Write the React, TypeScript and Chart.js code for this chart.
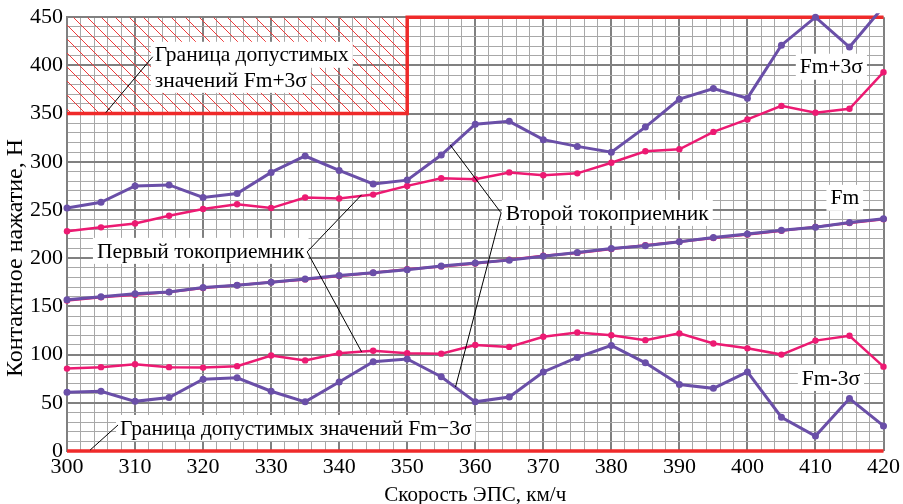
import React, { useEffect, useRef } from "react";
import { Chart, registerables } from "chart.js";

Chart.register(...registerables);

const speeds = [300, 305, 310, 315, 320, 325, 330, 335, 340, 345, 350, 355, 360, 365, 370, 375, 380, 385, 390, 395, 400, 405, 410, 415, 420];

// Второй токоприемник (фиолетовый)
const upperSecond = [252, 258, 275, 276, 263, 267, 289, 306, 291, 277, 281, 307, 339, 342, 323, 316, 310, 336, 365, 376, 366, 421, 450, 419, 461];
const meanSecond = [157, 160, 163, 165, 169.5, 172, 175, 178.5, 182, 185, 188, 192, 195, 198, 202, 206, 210, 213, 217, 221.5, 225, 229, 232, 237, 241];
const lowerSecond = [61, 62, 51.5, 55.5, 74.5, 76, 62, 51, 71.5, 92.5, 95.5, 77, 51, 56, 82, 97, 109.5, 91.5, 69, 65, 82, 35, 15.5, 54.5, 26];

// Первый токоприемник (розовый)
const upperFirst = [228, 232, 236, 244, 251, 256, 252, 263, 262, 266, 275, 283, 282, 289, 286, 288, 299, 311, 313, 331, 344, 358, 351, 355, 393];
const meanFirst = [156, 159.5, 162, 165, 169, 172, 175, 178, 181.5, 185, 188.5, 191.5, 194.5, 198.5, 202.5, 205.5, 209.5, 213.5, 217, 221, 224.5, 228.5, 232.5, 236.5, 240.5];
const lowerFirst = [85.5, 87, 90, 87, 86.5, 88, 99, 94, 101.5, 104, 101.5, 101, 110, 108, 118.5, 123, 120, 115, 122, 111.5, 106.5, 100, 114.5, 119.5, 87.5];

// Границы допустимых значений
const upperLimitX = [300, 350, 350, 420];
const upperLimitY = [350, 350, 450, 450];
const lowerLimitX = [300, 420];
const lowerLimitY = [0, 0];

const xMin = 300, xMax = 420, xStep = 2, xMajor = 10;
const yMin = 0, yMax = 450, yStep = 10, yMajor = 50;

const PURPLE = "#6a4fa8";
const PINK = "#ec1a72";
const RED = "#ef2a2a";
const FONT = "'Liberation Serif', 'Times New Roman', serif";

const labels = [
  { text: "Граница допустимых", x: 312.9, y: 411 },
  { text: "значений Fm+3σ", x: 312.9, y: 385 },
  { text: "Первый токоприемник", x: 304.4, y: 207.6 },
  { text: "Второй токоприемник", x: 364.5, y: 247 },
  { text: "Fm", x: 412.2, y: 262.6 },
  { text: "Fm+3σ", x: 407.7, y: 398.6 },
  { text: "Fm-3σ", x: 408, y: 75.8 },
  { text: "Граница допустимых значений Fm−3σ", x: 307.8, y: 23.9 },
];

const leaders = [
  [305.7, 351, 312.6, 409],
  [335.3, 206.6, 343.3, 265.8],
  [335.3, 206.6, 343.3, 102.8],
  [363.8, 247, 356.3, 317.7],
  [363.8, 247, 357.1, 66.4],
  [303.4, 1, 307.5, 27],
];

const toXY = (xs: number[], ys: number[]) => xs.map((x, i) => ({ x, y: ys[i] }));

const annotationPlugin = {
  id: "annotations",
  afterDatasetsDraw(chart: any) {
    const { ctx, scales } = chart;
    const sx = scales.x, sy = scales.y;
    ctx.save();
    ctx.font = `21.5px ${FONT}`;
    ctx.textBaseline = "middle";
    ctx.textAlign = "left";
    labels.forEach((l) => {
      const px = sx.getPixelForValue(l.x);
      const py = sy.getPixelForValue(l.y);
      const w = ctx.measureText(l.text).width;
      ctx.fillStyle = "#ffffff";
      ctx.fillRect(px - 4, py - 13, w + 8, 26);
    });
    ctx.strokeStyle = "#000000";
    ctx.lineWidth = 1;
    leaders.forEach(([x1, y1, x2, y2]) => {
      ctx.beginPath();
      ctx.moveTo(sx.getPixelForValue(x1), sy.getPixelForValue(y1));
      ctx.lineTo(sx.getPixelForValue(x2), sy.getPixelForValue(y2));
      ctx.stroke();
    });
    ctx.fillStyle = "#000000";
    labels.forEach((l) => {
      ctx.fillText(l.text, sx.getPixelForValue(l.x), sy.getPixelForValue(l.y) + 1);
    });
    ctx.restore();
  },
  afterDraw(chart: any) {
    const { ctx, chartArea } = chart;
    ctx.save();
    ctx.fillStyle = "#000000";
    ctx.textAlign = "center";
    ctx.textBaseline = "middle";
    ctx.font = `21px ${FONT}`;
    ctx.fillText("Скорость ЭПС, км/ч", (chartArea.left + chartArea.right) / 2, 495);
    ctx.font = `24px ${FONT}`;
    ctx.translate(16, 258);
    ctx.rotate(-Math.PI / 2);
    ctx.fillText("Контактное нажатие, Н", 0, 0);
    ctx.restore();
  },
};

function makeHatch(): CanvasPattern | string {
  const pc = document.createElement("canvas");
  const s = 14;
  pc.width = s;
  pc.height = s;
  const p = pc.getContext("2d");
  if (!p) return "rgba(240,40,40,0.2)";
  p.strokeStyle = "#f03a3a";
  p.lineWidth = 1;
  [-s, 0, s].forEach((c) => {
    p.beginPath();
    p.moveTo(c, 0);
    p.lineTo(c + s, s);
    p.stroke();
  });
  return p.createPattern(pc, "repeat") || "rgba(240,40,40,0.2)";
}

export default function App() {
  const ref = useRef<HTMLCanvasElement | null>(null);

  useEffect(() => {
    if (!ref.current) return;
    const hatch = makeHatch();
    const line = (data: number[], color: string, width: number, radius: number, order: number) => ({
      data: toXY(speeds, data),
      borderColor: color,
      backgroundColor: color,
      borderWidth: width,
      pointRadius: radius,
      pointBorderWidth: 0,
      pointBackgroundColor: color,
      fill: false,
      tension: 0,
      order,
      clip: 4,
    });
    const chart = new Chart(ref.current, {
      type: "line",
      data: {
        datasets: [
          line(upperSecond, PURPLE, 3, 3.5, 1),
          line(meanSecond, PURPLE, 3, 3.5, 1),
          line(lowerSecond, PURPLE, 3, 3.5, 1),
          line(upperFirst, PINK, 2.5, 3.2, 2),
          line(meanFirst, PINK, 2.5, 3.2, 2),
          line(lowerFirst, PINK, 2.5, 3.2, 2),
          {
            data: toXY(upperLimitX, upperLimitY),
            borderColor: RED,
            backgroundColor: hatch as any,
            borderWidth: 3.5,
            pointRadius: 0,
            fill: "end",
            tension: 0,
            order: 3,
            clip: 4,
          },
          {
            data: toXY(lowerLimitX, lowerLimitY),
            borderColor: RED,
            borderWidth: 3.5,
            pointRadius: 0,
            fill: false,
            order: 0,
            clip: 4,
          },
        ] as any,
      },
      options: {
        animation: false,
        responsive: true,
        maintainAspectRatio: false,
        layout: { padding: { top: 17, right: 16, left: 0, bottom: 0 } },
        plugins: { legend: { display: false }, tooltip: { enabled: false }, title: { display: false } },
        scales: {
          x: {
            type: "linear",
            min: xMin,
            max: xMax,
            afterFit: (s: any) => { s.height = 53; },
            ticks: {
              stepSize: xStep,
              autoSkip: false,
              maxRotation: 0,
              padding: 3,
              color: "#000000",
              font: { family: FONT, size: 22 },
              callback: (v: any) => (Math.round(Number(v)) % xMajor === 0 ? String(Math.round(Number(v))) : ""),
            },
            grid: {
              drawTicks: false,
              color: (c: any) => (Math.round(c.tick.value) % xMajor === 0 ? "#808080" : "#a8a8a8"),
              lineWidth: (c: any) => (Math.round(c.tick.value) % xMajor === 0 ? 2 : 1),
            },
            border: { display: false },
          },
          y: {
            type: "linear",
            min: yMin,
            max: yMax,
            afterFit: (s: any) => { s.width = 67; },
            ticks: {
              stepSize: yStep,
              autoSkip: false,
              padding: 4,
              color: "#000000",
              font: { family: FONT, size: 22 },
              callback: (v: any) => (Math.round(Number(v)) % yMajor === 0 ? String(Math.round(Number(v))) : ""),
            },
            grid: {
              drawTicks: false,
              color: (c: any) => (Math.round(c.tick.value) % yMajor === 0 ? "#808080" : "#a8a8a8"),
              lineWidth: (c: any) => (Math.round(c.tick.value) % yMajor === 0 ? 2 : 1),
            },
            border: { display: true, color: "#808080", width: 2 },
          },
        },
      } as any,
      plugins: [annotationPlugin],
    });
    return () => chart.destroy();
  }, []);

  return (
    <div style={{ position: "absolute", left: 0, top: 0, width: 903, height: 504, background: "#ffffff" }}>
      <canvas ref={ref} />
    </div>
  );
}
